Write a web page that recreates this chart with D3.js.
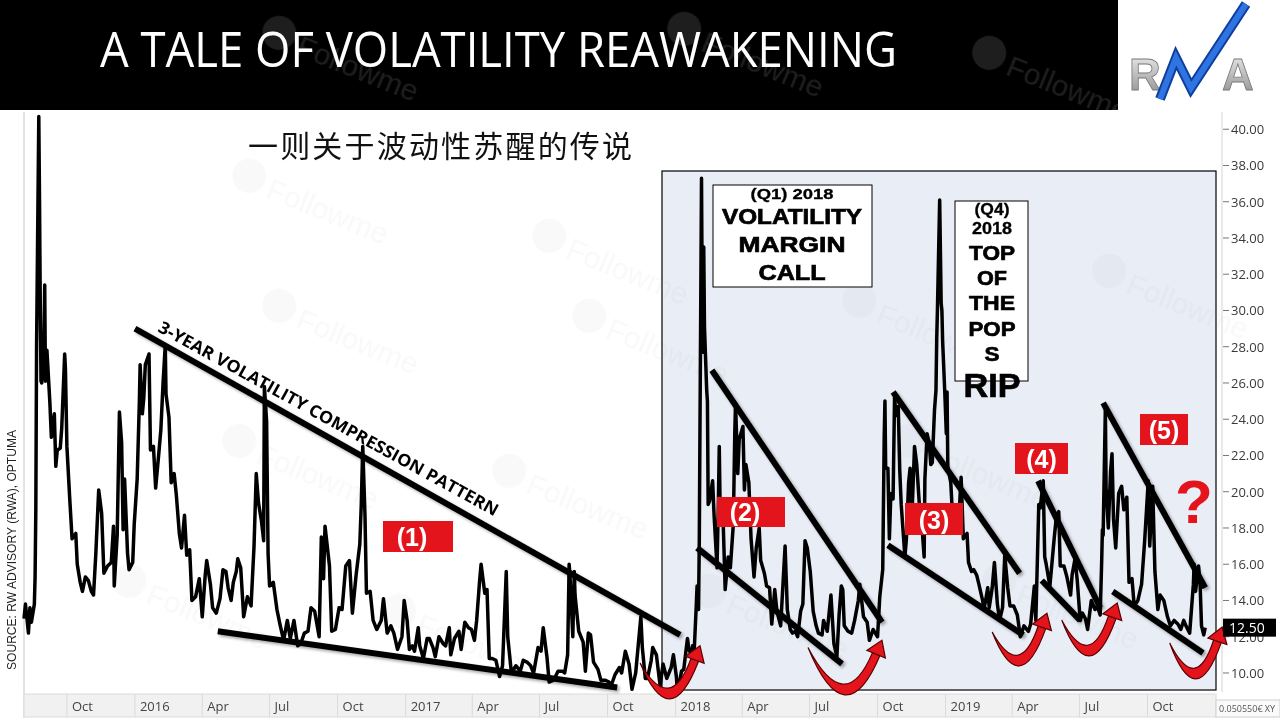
<!DOCTYPE html>
<html>
<head>
<meta charset="utf-8">
<script src="https://cdn.jsdelivr.net/npm/d3@7"></script>
<style>
  body { margin: 0; background: #fff; }
  svg { display: block; font-family: "Open Sans", sans-serif; }
</style>
</head>
<body>
<svg id="chart" width="1280" height="720"></svg>
<script>
// VIX closes (date, value)
const vix2015 = [
  ["2015-08-04",13.0],["2015-08-06",13.8],["2015-08-07",13.4],["2015-08-10",12.2],["2015-08-12",13.6],["2015-08-14",12.8],
  ["2015-08-18",13.8],["2015-08-19",15.3],["2015-08-20",19.1],["2015-08-21",28.0],["2015-08-24",40.7],["2015-08-25",36.0],
  ["2015-08-26",30.3],["2015-08-27",26.1],["2015-08-28",26.0],["2015-08-31",28.4],["2015-09-01",31.4],["2015-09-02",26.1],
  ["2015-09-04",27.8],["2015-09-08",24.9],["2015-09-10",23.0],["2015-09-14",24.3],["2015-09-16",21.4],["2015-09-18",22.3],
  ["2015-09-22",22.4],["2015-09-24",23.5],["2015-09-28",27.6],["2015-09-29",26.8],["2015-10-01",22.5],["2015-10-05",19.5],
  ["2015-10-08",17.4],["2015-10-13",17.7],["2015-10-15",16.0],["2015-10-19",15.0],["2015-10-22",14.5],["2015-10-26",15.3],
  ["2015-10-30",15.1],["2015-11-03",14.5],["2015-11-06",14.3],["2015-11-09",16.5],["2015-11-13",20.1],["2015-11-17",18.8],
  ["2015-11-20",15.5],["2015-11-25",15.9],["2015-11-30",16.1],["2015-12-03",18.1],["2015-12-04",14.8],["2015-12-08",17.6],
  ["2015-12-11",24.4],["2015-12-14",22.7],["2015-12-16",17.9],["2015-12-18",20.7],["2015-12-22",16.6],["2015-12-24",15.7],
  ["2015-12-29",16.1],["2015-12-31",18.2]
];
const vix2016 = [
  ["2016-01-04",20.7],["2016-01-07",25.0],["2016-01-08",27.0],["2016-01-11",24.3],["2016-01-13",25.2],["2016-01-15",27.0],
  ["2016-01-20",27.6],["2016-01-22",22.3],["2016-01-26",22.5],["2016-01-29",20.2],["2016-02-02",22.0],["2016-02-05",23.4],
  ["2016-02-08",26.0],["2016-02-11",28.1],["2016-02-12",25.4],["2016-02-16",24.1],["2016-02-19",20.5],["2016-02-23",21.0],
  ["2016-02-26",19.8],["2016-03-01",17.7],["2016-03-04",16.9],["2016-03-08",18.7],["2016-03-11",16.5],["2016-03-15",16.8],
  ["2016-03-18",14.0],["2016-03-23",14.2],["2016-03-28",15.2],["2016-04-01",13.1],["2016-04-05",15.4],["2016-04-07",16.2],
  ["2016-04-12",14.9],["2016-04-15",13.6],["2016-04-20",13.3],["2016-04-25",14.1],["2016-04-29",15.7],["2016-05-03",15.6],
  ["2016-05-06",14.7],["2016-05-10",14.0],["2016-05-13",15.0],["2016-05-17",15.6],["2016-05-19",16.3],["2016-05-23",15.8],
  ["2016-05-27",13.1],["2016-06-01",14.2],["2016-06-06",13.7],["2016-06-10",17.0],["2016-06-13",21.0],["2016-06-16",19.4],
  ["2016-06-20",18.4],["2016-06-23",17.3],["2016-06-24",25.8],["2016-06-27",23.9],["2016-06-29",16.6],["2016-07-01",14.8],
  ["2016-07-06",15.0],["2016-07-11",13.5],["2016-07-15",12.7],["2016-07-20",11.8],["2016-07-25",12.9],["2016-07-29",11.9],
  ["2016-08-03",12.9],["2016-08-08",11.5],["2016-08-12",11.6],["2016-08-17",12.2],["2016-08-22",12.3],["2016-08-26",13.6],
  ["2016-08-31",13.4],["2016-09-06",12.0],["2016-09-09",17.5],["2016-09-12",15.2],["2016-09-14",18.1],["2016-09-20",15.9],
  ["2016-09-23",12.3],["2016-09-28",12.4],["2016-10-03",13.6],["2016-10-07",13.5],["2016-10-12",15.9],["2016-10-17",16.2],
  ["2016-10-21",13.3],["2016-10-26",15.4],["2016-10-31",17.1],["2016-11-02",19.3],["2016-11-04",22.5],["2016-11-07",18.7],
  ["2016-11-09",14.4],["2016-11-14",14.5],["2016-11-18",12.9],["2016-11-23",12.4],["2016-11-29",12.9],["2016-12-02",14.1],
  ["2016-12-07",12.2],["2016-12-12",12.6],["2016-12-16",12.2],["2016-12-21",11.3],["2016-12-27",12.0],["2016-12-30",14.0]
];
const vix2017 = [
  ["2017-01-03",12.9],["2017-01-06",11.3],["2017-01-10",11.5],["2017-01-13",11.2],["2017-01-18",12.5],["2017-01-20",11.5],
  ["2017-01-25",10.8],["2017-01-30",11.9],["2017-02-02",11.9],["2017-02-07",11.4],["2017-02-10",10.9],["2017-02-15",12.0],
  ["2017-02-21",11.6],["2017-02-24",11.5],["2017-03-01",12.5],["2017-03-03",11.0],["2017-03-08",11.9],["2017-03-14",12.3],
  ["2017-03-17",11.3],["2017-03-21",12.5],["2017-03-22",12.8],["2017-03-27",12.5],["2017-03-31",12.4],["2017-04-04",11.8],
  ["2017-04-07",12.9],["2017-04-11",15.1],["2017-04-13",16.0],["2017-04-18",14.4],["2017-04-21",14.6],["2017-04-24",10.8],
  ["2017-04-28",10.8],["2017-05-03",10.7],["2017-05-08",9.8],["2017-05-12",10.4],["2017-05-17",15.6],["2017-05-19",12.0],
  ["2017-05-24",10.0],["2017-05-30",10.4],["2017-06-05",10.1],["2017-06-09",10.7],["2017-06-14",10.6],["2017-06-19",10.4],
  ["2017-06-23",10.0],["2017-06-29",11.4],["2017-07-03",11.2],["2017-07-06",12.5],["2017-07-11",10.9],["2017-07-14",9.5],
  ["2017-07-20",9.6],["2017-07-26",10.1],["2017-08-01",10.1],["2017-08-04",10.0],["2017-08-08",11.0],["2017-08-10",16.0],
  ["2017-08-11",15.5],["2017-08-15",12.0],["2017-08-17",15.6],["2017-08-18",14.3],["2017-08-23",12.3],["2017-08-29",11.7],
  ["2017-09-01",10.1],["2017-09-05",12.2],["2017-09-08",12.1],["2017-09-12",10.6],["2017-09-18",10.2],["2017-09-22",9.6],
  ["2017-09-28",9.6],["2017-10-03",9.5],["2017-10-05",9.2],["2017-10-11",9.9],["2017-10-17",10.3],["2017-10-20",10.0],
  ["2017-10-25",11.2],["2017-10-30",10.5],["2017-11-03",9.1],["2017-11-08",10.0],["2017-11-15",13.1],["2017-11-17",11.4],
  ["2017-11-21",9.7],["2017-11-24",9.7],["2017-11-29",10.7],["2017-12-01",11.4],["2017-12-06",11.0],["2017-12-11",9.3],
  ["2017-12-15",10.5],["2017-12-20",9.7],["2017-12-26",10.3],["2017-12-29",11.0]
];
const vix2018 = [
  ["2018-01-02",9.8],["2018-01-03",9.2],["2018-01-05",9.2],["2018-01-09",10.1],["2018-01-12",10.2],["2018-01-17",11.9],
  ["2018-01-19",11.3],["2018-01-22",11.0],["2018-01-24",11.5],["2018-01-26",11.1],["2018-01-29",13.8],["2018-01-30",14.8],
  ["2018-02-01",13.5],["2018-02-02",17.3],["2018-02-05",37.3],["2018-02-06",30.0],["2018-02-07",27.7],["2018-02-08",33.5],
  ["2018-02-09",29.1],["2018-02-12",25.6],["2018-02-13",25.0],["2018-02-14",19.3],["2018-02-16",19.5],["2018-02-20",20.6],
  ["2018-02-22",18.7],["2018-02-26",15.8],["2018-02-28",19.9],["2018-03-01",22.5],["2018-03-02",19.6],["2018-03-06",18.7],
  ["2018-03-09",14.6],["2018-03-13",16.4],["2018-03-16",15.8],["2018-03-20",18.2],["2018-03-22",23.3],["2018-03-23",24.9],
  ["2018-03-26",21.0],["2018-03-28",22.9],["2018-04-02",23.6],["2018-04-04",20.1],["2018-04-06",21.5],["2018-04-10",20.5],
  ["2018-04-13",17.4],["2018-04-17",15.3],["2018-04-20",16.9],["2018-04-24",18.0],["2018-04-26",16.2],["2018-05-01",15.5],
  ["2018-05-04",14.8],["2018-05-08",14.7],["2018-05-11",12.7],["2018-05-15",14.6],["2018-05-18",13.4],["2018-05-23",12.6],
  ["2018-05-29",17.0],["2018-06-01",13.5],["2018-06-05",12.4],["2018-06-08",12.2],["2018-06-12",12.3],["2018-06-15",12.0],
  ["2018-06-19",13.4],["2018-06-22",13.8],["2018-06-25",17.3],["2018-06-28",16.9],["2018-07-02",15.6],["2018-07-06",13.4],
  ["2018-07-10",12.6],["2018-07-13",12.2],["2018-07-18",12.1],["2018-07-20",12.9],["2018-07-25",12.3],["2018-07-30",14.3],
  ["2018-08-03",11.6],["2018-08-07",10.9],["2018-08-10",13.2],["2018-08-13",14.8],["2018-08-15",14.6],["2018-08-17",12.6],
  ["2018-08-22",12.3],["2018-08-27",12.2],["2018-08-31",12.9],["2018-09-05",14.0],["2018-09-07",14.9],["2018-09-12",13.1],
  ["2018-09-17",12.8],["2018-09-20",11.8],["2018-09-25",12.4],["2018-10-01",12.0],["2018-10-04",14.2],["2018-10-08",15.7],
  ["2018-10-10",23.0],["2018-10-11",25.0],["2018-10-12",21.3],["2018-10-15",21.3],["2018-10-17",17.4],["2018-10-19",19.9],
  ["2018-10-22",19.6],["2018-10-24",25.2],["2018-10-26",24.2],["2018-10-29",24.7],["2018-10-31",21.2],["2018-11-02",19.3],
  ["2018-11-07",16.4],["2018-11-09",17.4],["2018-11-12",20.5],["2018-11-14",21.3],["2018-11-16",18.1],["2018-11-20",22.5],
  ["2018-11-23",21.5],["2018-11-27",19.0],["2018-11-30",18.1],["2018-12-03",16.4],["2018-12-04",20.7],["2018-12-07",23.2],
  ["2018-12-10",22.6],["2018-12-12",21.5],["2018-12-14",21.6],["2018-12-17",24.5],["2018-12-19",25.6],["2018-12-20",28.4],
  ["2018-12-21",30.1],["2018-12-24",36.1],["2018-12-26",30.4],["2018-12-27",30.0],["2018-12-28",28.3],["2018-12-31",25.4]
];
const vix2019 = [
  ["2019-01-02",23.2],["2019-01-03",25.5],["2019-01-04",21.4],["2019-01-08",20.5],["2019-01-11",18.2],["2019-01-15",18.6],
  ["2019-01-18",17.8],["2019-01-22",20.8],["2019-01-25",17.4],["2019-01-30",17.7],["2019-02-01",16.1],["2019-02-05",15.6],
  ["2019-02-08",15.7],["2019-02-12",15.4],["2019-02-15",14.9],["2019-02-20",14.0],["2019-02-22",13.5],["2019-02-27",14.7],
  ["2019-03-01",13.6],["2019-03-05",14.7],["2019-03-08",16.1],["2019-03-12",13.8],["2019-03-15",12.9],["2019-03-19",13.6],
  ["2019-03-22",16.5],["2019-03-26",14.7],["2019-03-29",13.7],["2019-04-03",13.7],["2019-04-08",13.2],["2019-04-12",12.0],
  ["2019-04-17",12.6],["2019-04-23",12.3],["2019-04-26",12.7],["2019-05-01",14.8],["2019-05-03",12.9],["2019-05-07",19.3],
  ["2019-05-09",19.1],["2019-05-13",20.6],["2019-05-15",16.4],["2019-05-17",16.0],["2019-05-22",14.8],["2019-05-28",17.5],
  ["2019-05-31",18.7],["2019-06-03",18.9],["2019-06-05",15.9],["2019-06-10",15.9],["2019-06-14",15.3],["2019-06-19",14.3],
  ["2019-06-21",15.4],["2019-06-25",16.3],["2019-06-28",15.1],["2019-07-02",12.9],["2019-07-05",13.3],["2019-07-09",13.0],
  ["2019-07-12",12.4],["2019-07-17",14.0],["2019-07-22",13.5],["2019-07-25",13.7],["2019-07-29",13.2],["2019-07-31",16.1],
  ["2019-08-01",17.9],["2019-08-02",17.6],["2019-08-05",24.6],["2019-08-06",20.2],["2019-08-07",19.5],["2019-08-09",18.0],
  ["2019-08-12",21.1],["2019-08-14",22.1],["2019-08-16",18.5],["2019-08-19",16.9],["2019-08-23",19.9],["2019-08-27",20.3],
  ["2019-08-30",19.0],["2019-09-03",19.7],["2019-09-06",15.0],["2019-09-10",15.2],["2019-09-13",13.7],["2019-09-18",14.0],
  ["2019-09-23",14.9],["2019-09-27",17.2],["2019-10-02",20.6],["2019-10-04",17.0],["2019-10-08",20.3],["2019-10-11",15.6],
  ["2019-10-15",13.5],["2019-10-18",14.3],["2019-10-23",14.0],["2019-10-28",13.1],["2019-11-01",12.6],["2019-11-06",12.9],
  ["2019-11-11",12.7],["2019-11-15",12.4],["2019-11-19",12.9],["2019-11-22",12.6],["2019-11-27",12.2],["2019-12-02",14.9],
  ["2019-12-03",16.0],["2019-12-05",14.5],["2019-12-09",15.9],["2019-12-11",15.0],["2019-12-13",12.6],["2019-12-16",12.1],
  ["2019-12-17",12.3],["2019-12-18",12.5]
];
const lastValue = 12.50;
const yTicks = [10, 12, 14, 16, 18, 20, 22, 24, 26, 28, 30, 32, 34, 36, 38, 40];

// hand-drawn trend lines, in chart coordinates [date, value, date, value]
const trendLines = [
  ["2016-01-01", 29.0, "2018-01-07", 12.1],
  ["2016-04-22", 12.3, "2017-10-14", 9.2],
  ["2018-02-19", 26.7, "2018-10-07", 12.8],
  ["2018-01-30", 16.9, "2018-08-14", 10.5],
  ["2018-10-22", 25.5, "2019-04-11", 15.5],
  ["2018-10-15", 17.05, "2019-04-16", 12.1],
  ["2019-05-06", 20.6, "2019-07-29", 13.6],
  ["2019-05-11", 15.1, "2019-07-02", 12.9],
  ["2019-08-02", 24.9, "2019-12-18", 14.7],
  ["2019-08-15", 14.5, "2019-12-15", 11.1]
];
// red turn arrows [start date, start value, tip date, tip value, lowest value]
const turnArrows = [
  ["2017-11-14", 10.55, "2018-02-03", 11.5, 9.06],
  ["2018-06-29", 11.4, "2018-10-07", 11.8, 9.28],
  ["2019-03-05", 12.26, "2019-05-18", 13.3, 10.88],
  ["2019-06-07", 12.92, "2019-08-21", 13.86, 11.43],
  ["2019-10-31", 11.65, "2020-01-10", 12.53, 10.16]
];
const phaseLabels = [
  { text: "(1)", x: 383, y: 521, w: 70, h: 31 },
  { text: "(2)", x: 717, y: 497, w: 68, h: 30 },
  { text: "(3)", x: 905, y: 503, w: 58, h: 32 },
  { text: "(4)", x: 1015, y: 443, w: 53, h: 31 },
  { text: "(5)", x: 1140, y: 414, w: 48, h: 31 }
];

const parse = d3.timeParse("%Y-%m-%d");
const series = [].concat(vix2015, vix2016, vix2017, vix2018, vix2019)
  .map(d => ({ date: parse(d[0]), v: d[1] }));

const svg = d3.select("#chart");
const PLOT = { left: 24, right: 1220, top: 112, bottom: 692 };

const x = d3.scaleTime()
  .domain([new Date(2015, 7, 4), new Date(2020, 0, 7)])
  .range([PLOT.left, PLOT.right]);
const y = d3.scaleLinear()
  .domain([8.95, 40.95])
  .range([PLOT.bottom, PLOT.top]);

const defs = svg.append("defs");
defs.append("filter").attr("id", "shadow")
  .attr("x", "-10%").attr("y", "-10%").attr("width", "130%").attr("height", "130%")
  .append("feDropShadow")
  .attr("dx", 2).attr("dy", 2).attr("stdDeviation", 1.5)
  .attr("flood-color", "#000").attr("flood-opacity", 0.35);
const logoGrad = defs.append("linearGradient").attr("id", "silver")
  .attr("x1", 0).attr("y1", 0).attr("x2", 0).attr("y2", 1);
logoGrad.append("stop").attr("offset", "0%").attr("stop-color", "#f2f2f2");
logoGrad.append("stop").attr("offset", "55%").attr("stop-color", "#b8b8b8");
logoGrad.append("stop").attr("offset", "100%").attr("stop-color", "#8a8a8a");

// background
svg.append("rect").attr("width", 1280).attr("height", 720).attr("fill", "#fff");

// 2018-2019 shaded panel
svg.append("rect")
  .attr("x", 662).attr("y", 171).attr("width", 554).attr("height", 519)
  .attr("fill", "#e9edf6").attr("stroke", "#000").attr("stroke-width", 1.2);

// faint watermarks
const marks = [[300, 205], [600, 265], [330, 335], [640, 345], [910, 330], [1160, 300],
  [290, 470], [560, 500], [960, 470], [180, 610], [450, 640], [760, 620], [1050, 610]];
const wm = svg.append("g").attr("fill", "#9a9a9a").attr("opacity", 0.06);
marks.forEach(m => {
  const g = wm.append("g").attr("transform", `translate(${m[0]},${m[1]}) rotate(22)`);
  g.append("circle").attr("cx", -58).attr("cy", -8).attr("r", 17);
  g.append("text").attr("x", -36).attr("y", 6).attr("font-size", 30)
    .attr("font-family", "Arial, sans-serif").text("Followme");
});

// left / right frame lines
svg.append("line").attr("x1", PLOT.left).attr("x2", PLOT.left)
  .attr("y1", PLOT.top).attr("y2", PLOT.bottom + 26).attr("stroke", "#c8c8c8");
svg.append("line").attr("x1", 1222).attr("x2", 1222)
  .attr("y1", PLOT.top).attr("y2", PLOT.bottom).attr("stroke", "#d4d4d4");

// x axis strip
const xAxisG = svg.append("g");
xAxisG.append("rect").attr("x", PLOT.left).attr("y", PLOT.bottom + 2)
  .attr("width", 1192).attr("height", 23).attr("fill", "#f1f1f1")
  .attr("stroke", "#dcdcdc");
const xTicks = d3.timeMonth.every(3).range(x.domain()[0], new Date(2019, 11, 31));
const fmtTick = d => d.getMonth() === 0 ? d3.timeFormat("%Y")(d) : d3.timeFormat("%b")(d);
xAxisG.selectAll("line.sep").data(xTicks).join("line")
  .attr("x1", d => x(d)).attr("x2", d => x(d))
  .attr("y1", PLOT.bottom + 2).attr("y2", PLOT.bottom + 25)
  .attr("stroke", "#dadada");
xAxisG.selectAll("text").data(xTicks).join("text")
  .attr("x", d => x(d) + 5).attr("y", 711)
  .attr("font-size", 13).attr("fill", "#444")
  .text(fmtTick);

// right y axis
const yAxisG = svg.append("g");
yAxisG.selectAll("line").data(yTicks).join("line")
  .attr("x1", 1223).attr("x2", 1229)
  .attr("y1", d => y(d)).attr("y2", d => y(d))
  .attr("stroke", "#777");
yAxisG.selectAll("text").data(yTicks).join("text")
  .attr("x", 1231).attr("y", d => y(d) + 5)
  .attr("font-size", 13).attr("fill", "#3a3a3a")
  .text(d3.format(".2f"));

// VIX line
svg.append("path").datum(series)
  .attr("fill", "none").attr("stroke", "#000").attr("stroke-width", 3.5)
  .attr("stroke-linejoin", "round")
  .attr("d", d3.line().x(d => x(d.date)).y(d => y(d.v)));

// trend lines
svg.append("g").attr("filter", "url(#shadow)")
  .selectAll("line").data(trendLines).join("line")
  .attr("x1", d => x(parse(d[0]))).attr("y1", d => y(d[1]))
  .attr("x2", d => x(parse(d[2]))).attr("y2", d => y(d[3]))
  .attr("stroke", "#000").attr("stroke-width", 6);

// compression pattern caption
svg.append("text")
  .attr("transform", "translate(157,331) rotate(28.8)")
  .attr("font-size", 17).attr("font-weight", 700).attr("fill", "#000")
  .attr("textLength", 385).attr("lengthAdjust", "spacingAndGlyphs")
  .text("3-YEAR VOLATILITY COMPRESSION PATTERN");

// red turning arrows
const arrowG = svg.append("g");
turnArrows.forEach(a => {
  const s = [x(parse(a[0])), y(a[1])];
  const t = [x(parse(a[2])), y(a[3])];
  const by = y(a[4]);
  const c = [(s[0] + t[0]) / 2, (4 * by - s[1] - t[1]) / 2];
  let ux = t[0] - c[0], uy = t[1] - c[1];
  const L = Math.hypot(ux, uy); ux /= L; uy /= L;
  const nx = -uy, ny = ux;
  const b = [t[0] - ux * 15, t[1] - uy * 15];
  const th = 4, bulge = 10;
  const body = `M${s[0]},${s[1]}` +
    `Q${c[0]},${c[1] + bulge} ${b[0] + nx * th},${b[1] + ny * th}` +
    `L${b[0] - nx * th},${b[1] - ny * th}` +
    `Q${c[0]},${c[1] - bulge} ${s[0]},${s[1]}Z`;
  arrowG.append("path").attr("d", body)
    .attr("fill", "#e3141c").attr("stroke", "#5a0000").attr("stroke-width", 1.2);
  arrowG.append("path")
    .attr("d", `M${t[0]},${t[1]}L${b[0] + nx * 10},${b[1] + ny * 10}L${b[0] - nx * 10},${b[1] - ny * 10}Z`)
    .attr("fill", "#e3141c").attr("stroke", "#5a0000").attr("stroke-width", 1.2);
});

// phase labels
const lab = svg.append("g").selectAll("g").data(phaseLabels).join("g");
lab.append("rect")
  .attr("x", d => d.x).attr("y", d => d.y).attr("width", d => d.w).attr("height", d => d.h)
  .attr("fill", "#e3141c");
lab.append("text")
  .attr("x", d => d.x + d.w / 2 - (d.text === "(1)" || d.text === "(2)" ? 6 : 0))
  .attr("y", d => d.y + d.h - 6)
  .attr("text-anchor", "middle").attr("font-family", "Liberation Sans, Arial, sans-serif")
  .attr("font-weight", 700).attr("font-size", 25).attr("fill", "#fff")
  .text(d => d.text);

svg.append("text").attr("x", 1194).attr("y", 523)
  .attr("text-anchor", "middle").attr("font-family", "Liberation Sans, Arial, sans-serif")
  .attr("font-weight", 700).attr("font-size", 62).attr("fill", "#e3141c")
  .text("?");

// annotation boxes
const boxFont = "Liberation Sans, Arial, sans-serif";
function boxText(g, cx, lines) {
  lines.forEach(l => {
    g.append("text").attr("x", cx).attr("y", l[1])
      .attr("text-anchor", "middle").attr("font-family", boxFont)
      .attr("font-weight", 700).attr("font-size", l[2]).attr("fill", "#000")
      .attr("stroke", "#000").attr("stroke-width", l[2] > 18 ? 0.7 : 0.3)
      .attr("textLength", l[3]).attr("lengthAdjust", "spacingAndGlyphs")
      .text(l[0]);
  });
}
const q1 = svg.append("g");
q1.append("rect").attr("x", 713).attr("y", 185).attr("width", 159).attr("height", 102)
  .attr("fill", "#fff").attr("stroke", "#000");
boxText(q1, 792, [["(Q1) 2018", 199, 15, 83], ["VOLATILITY", 224, 22, 140],
  ["MARGIN", 252, 22, 107], ["CALL", 280, 22, 67]]);

const q4 = svg.append("g");
q4.append("rect").attr("x", 955).attr("y", 201).attr("width", 73).attr("height", 180)
  .attr("fill", "#fff").attr("stroke", "#000");
boxText(q4, 992, [["(Q4)", 215, 16, 35], ["2018", 234, 16, 40], ["TOP", 260, 21, 46],
  ["OF", 285, 21, 30], ["THE", 310, 21, 46], ["POP", 336, 21, 47], ["S", 361, 21, 15],
  ["RIP", 397, 33, 57]]);

// header
svg.append("rect").attr("width", 1118).attr("height", 110).attr("fill", "#000");
const hwm = svg.append("g").attr("fill", "#fff").attr("opacity", 0.12);
[[330, 62], [735, 58], [1040, 82]].forEach(m => {
  const g = hwm.append("g").attr("transform", `translate(${m[0]},${m[1]}) rotate(22)`);
  g.append("circle").attr("cx", -58).attr("cy", -8).attr("r", 17);
  g.append("text").attr("x", -36).attr("y", 6).attr("font-size", 30)
    .attr("font-family", "Arial, sans-serif").text("Followme");
});
svg.append("text").attr("x", 100).attr("y", 67)
  .attr("font-size", 49).attr("fill", "#fff")
  .attr("textLength", 797).attr("lengthAdjust", "spacingAndGlyphs")
  .text("A TALE OF VOLATILITY REAWAKENING");

// RWA logo
const logo = svg.append("g");
logo.append("text").attr("x", 1129).attr("y", 90)
  .attr("font-family", "Liberation Sans, Arial, sans-serif").attr("font-weight", 700)
  .attr("font-size", 44).attr("fill", "url(#silver)").attr("stroke", "#7a7a7a").attr("stroke-width", 0.8)
  .text("R");
logo.append("text").attr("x", 1222).attr("y", 90)
  .attr("font-family", "Liberation Sans, Arial, sans-serif").attr("font-weight", 700)
  .attr("font-size", 44).attr("fill", "url(#silver)").attr("stroke", "#7a7a7a").attr("stroke-width", 0.8)
  .text("A");
logo.append("path").attr("d", "M1160,99 L1176,58 L1191,88 L1246,4")
  .attr("fill", "none").attr("stroke", "#0d3f9e").attr("stroke-width", 10).attr("stroke-linejoin", "miter");
logo.append("path").attr("d", "M1160,99 L1176,58 L1191,88 L1246,4")
  .attr("fill", "none").attr("stroke", "#2f74e0").attr("stroke-width", 6).attr("stroke-linejoin", "miter");

// Chinese subtitle
svg.append("text").attr("x", 248).attr("y", 157)
  .attr("font-family", "Noto Sans CJK SC, sans-serif").attr("font-size", 30).attr("fill", "#111")
  .attr("textLength", 384)
  .text("一则关于波动性苏醒的传说");

// source note
svg.append("text").attr("transform", "translate(16,670) rotate(-90)")
  .attr("font-family", "Liberation Sans, Arial, sans-serif").attr("font-size", 12).attr("fill", "#222")
  .attr("textLength", 240).attr("lengthAdjust", "spacingAndGlyphs")
  .text("SOURCE: RW ADVISORY (RWA), OPTUMA");

// last price tag
svg.append("rect").attr("x", 1223).attr("y", y(lastValue) - 9).attr("width", 53).attr("height", 18)
  .attr("fill", "#000");
svg.append("text").attr("x", 1229).attr("y", y(lastValue) + 5)
  .attr("font-size", 14).attr("fill", "#fff").text(d3.format(".2f")(lastValue));

// corner readout
svg.append("rect").attr("x", 1216).attr("y", 700).attr("width", 64).attr("height", 17)
  .attr("fill", "#fafafa").attr("stroke", "#cfcfcf");
svg.append("text").attr("x", 1219).attr("y", 712).attr("font-size", 9).attr("fill", "#555")
  .text("0.050550€ XY");
</script>
</body>
</html>
